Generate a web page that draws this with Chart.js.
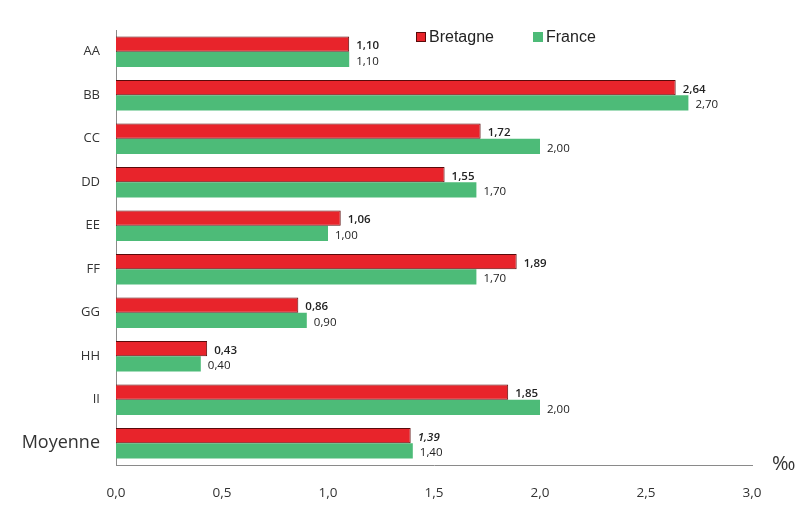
<!DOCTYPE html>
<html>
<head>
<meta charset="utf-8">
<script src="https://cdn.jsdelivr.net/npm/chart.js@4"></script>
<style>
  body { margin: 0; background: #fff; }
  #wrap { width: 798px; height: 523px; }
</style>
</head>
<body>
<div id="wrap"><canvas id="chart" width="798" height="523"></canvas></div>
<script>
// Data
const categories = ["AA", "BB", "CC", "DD", "EE", "FF", "GG", "HH", "II", "Moyenne"];
const bretagne = [1.10, 2.64, 1.72, 1.55, 1.06, 1.89, 0.86, 0.43, 1.85, 1.39];
const france = [1.10, 2.70, 2.00, 1.70, 1.00, 1.70, 0.90, 0.40, 2.00, 1.40];
const xTicks = [0, 0.5, 1, 1.5, 2, 2.5, 3];

const RED = "#e8242b";
const GREEN = "#4dbb78";

const fmt = (v, d) => v.toFixed(d).replace(".", ",");

// Value labels next to each bar end
const valueLabels = {
  id: "valueLabels",
  afterDatasetsDraw(chart) {
    const ctx = chart.ctx;
    ctx.save();
    ctx.fillStyle = "#222";
    ctx.textBaseline = "middle";
    chart.data.datasets.forEach((ds, di) => {
      chart.getDatasetMeta(di).data.forEach((bar, i) => {
        const italic = i === categories.length - 1 && di === 0;
        ctx.font = (italic ? "italic " : "") + (di === 0 ? "600" : "500") + " 11.5px 'Open Sans'";
        ctx.fillText(fmt(ds.data[i], 2), bar.x + 7, bar.y + 2);
      });
    });
    ctx.restore();
  }
};

// Legend inside the plot area + per-mille unit
const extras = {
  id: "extras",
  afterDraw(chart) {
    const ctx = chart.ctx;
    const area = chart.chartArea;
    ctx.save();
    ctx.font = "16px 'Liberation Sans'";
    ctx.textBaseline = "middle";
    const items = [[RED, "Bretagne", 416], [GREEN, "France", 533]];
    items.forEach(([c, t, x]) => {
      ctx.fillStyle = c;
      ctx.fillRect(x, 32, 10, 10);
      if (c === RED) {
        ctx.strokeStyle = "#5a0a0a";
        ctx.lineWidth = 1;
        ctx.strokeRect(x + 0.5, 32.5, 9, 9);
      }
      ctx.fillStyle = "#222";
      ctx.fillText(t, x + 13, 38);
    });
    ctx.font = "20px 'Open Sans'";
    ctx.fillStyle = "#333";
    ctx.fillText("‰", area.right + 20, area.bottom - 1);
    ctx.restore();
  }
};

new Chart(document.getElementById("chart").getContext("2d"), {
  type: "bar",
  data: {
    labels: categories,
    datasets: [
      {
        label: "Bretagne",
        data: bretagne,
        backgroundColor: RED,
        borderColor: "#5a0a0a",
        borderWidth: 1,
        categoryPercentage: 0.7,
        barPercentage: 1.0
      },
      {
        label: "France",
        data: france,
        backgroundColor: GREEN,
        borderWidth: 0,
        categoryPercentage: 0.7,
        barPercentage: 1.0
      }
    ]
  },
  options: {
    indexAxis: "y",
    responsive: false,
    animation: false,
    layout: { padding: { top: 30, right: 46, bottom: 14, left: 0 } },
    plugins: {
      legend: { display: false },
      tooltip: { enabled: false }
    },
    scales: {
      x: {
        min: 0,
        max: 3,
        afterBuildTicks: (axis) => { axis.ticks = xTicks.map(v => ({ value: v })); },
        grid: { display: false, drawTicks: false },
        border: { display: true, color: "#8a8a8a", width: 1 },
        ticks: {
          padding: 20,
          color: "#333",
          font: { family: "'Open Sans'", size: 13.5 },
          callback: (v) => fmt(v, 1)
        },
        afterFit: (axis) => { axis.height = 44; }
      },
      y: {
        grid: { display: false, drawTicks: false },
        border: { display: true, color: "#8a8a8a", width: 1 },
        ticks: {
          padding: 16,
          color: "#333",
          font: (c) => c.index === categories.length - 1
            ? { family: "'Open Sans'", size: 18, weight: "500" }
            : { family: "'Open Sans'", size: 13 }
        },
        afterFit: (axis) => { axis.width = 116; }
      }
    }
  },
  plugins: [valueLabels, extras]
});
</script>
</body>
</html>
